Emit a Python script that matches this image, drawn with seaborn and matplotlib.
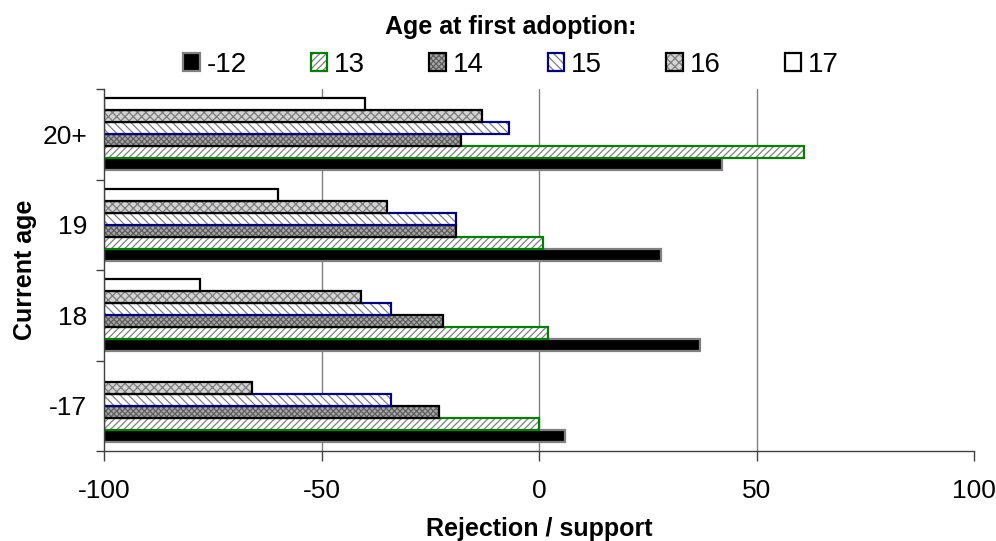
"""Horizontal grouped bars: support by current age and age at first adoption."""

import matplotlib

matplotlib.use("Agg")
import matplotlib.pyplot as plt  # noqa: E402
import pandas as pd  # noqa: E402
import seaborn as sns  # noqa: E402
from matplotlib.colors import to_rgba  # noqa: E402
from matplotlib.ticker import FixedLocator  # noqa: E402

CURRENT_AGE = ["-17", "18", "19", "20+"]
ADOPTION_AGE = ["-12", "13", "14", "15", "16", "17"]

# one list per adoption age, values in CURRENT_AGE order (None = no bar)
VAL_M12 = [6, 37, 28, 42]
VAL_13 = [0, 2, 1, 61]
VAL_14 = [-23, -22, -19, -18]
VAL_15 = [-34, -34, -19, -7]
VAL_16 = [-66, -41, -35, -13]
VAL_17 = [None, -78, -60, -40]

BASE = -100  # bars grow from the left edge of the scale

STYLES = {
    "-12": dict(face="black", edge="#808080", hatch=None, hatch_color=None),
    "13": dict(face="white", edge="#008000", hatch="/////", hatch_color="#808080"),
    "14": dict(face="#a8a8a8", edge="black", hatch="xxxxxx", hatch_color="#5e5e5e"),
    "15": dict(face="white", edge="#000080", hatch="\\\\\\\\", hatch_color="#808080"),
    "16": dict(face="#d4d4d4", edge="black", hatch="xxxx", hatch_color="#7c7c7c"),
    "17": dict(face="white", edge="black", hatch=None, hatch_color=None),
}

sns.set_theme(style="white")
plt.rcParams["font.family"] = ["Liberation Sans", "DejaVu Sans"]
plt.rcParams["hatch.linewidth"] = 0.9
plt.rcParams["text.color"] = "black"
plt.rcParams["axes.labelcolor"] = "black"
plt.rcParams["xtick.color"] = "black"
plt.rcParams["ytick.color"] = "black"

rows = []
for adopt, vals in zip(ADOPTION_AGE, [VAL_M12, VAL_13, VAL_14, VAL_15, VAL_16, VAL_17]):
    for cur, v in zip(CURRENT_AGE, vals):
        if v is None:
            continue
        rows.append({"current": cur, "adoption": adopt, "value": v})
df = pd.DataFrame(rows)
df["length"] = df["value"] - BASE

fig = plt.figure(figsize=(9.96, 5.41), dpi=100)
ax = fig.add_axes([104 / 996, 90 / 541, 870 / 996, 362 / 541])

for gx in (-50, 0, 50):
    ax.axvline(gx, color="#808080", lw=1.0, zorder=0)

sns.barplot(
    data=df,
    x="length",
    y="current",
    hue="adoption",
    order=CURRENT_AGE,
    hue_order=ADOPTION_AGE,
    orient="y",
    width=0.8,
    left=BASE,
    errorbar=None,
    legend=False,
    ax=ax,
    zorder=2,
)

for adopt, cont in zip(ADOPTION_AGE, ax.containers):
    st = STYLES[adopt]
    for p in cont.patches:
        p.set_facecolor(st["face"])
        p.set_edgecolor(st["edge"])
        p.set_linewidth(1.6)
        if st["hatch"]:
            p.set_hatch(st["hatch"])
            if hasattr(p, "set_hatchcolor"):
                p.set_hatchcolor(st["hatch_color"])
            else:
                p._hatch_color = to_rgba(st["hatch_color"])

ax.invert_yaxis()  # first category at the bottom
ax.set_ylim(-0.5, len(CURRENT_AGE) - 0.5)
ax.set_xlim(-100, 100)
ax.set_xticks([-100, -50, 0, 50, 100])
ax.set_xticklabels(["-100", "-50", "0", "50", "100"])

ax.yaxis.set_minor_locator(FixedLocator([i - 0.5 for i in range(len(CURRENT_AGE) + 1)]))
ax.tick_params(axis="y", which="major", length=0, pad=12, labelsize=19)
ax.tick_params(axis="y", which="minor", left=True, length=6, width=1, color="#404040", direction="out")
ax.tick_params(axis="x", which="major", bottom=True, length=7, width=1, color="#404040",
               direction="out", pad=13, labelsize=19)

for side in ("top", "right"):
    ax.spines[side].set_visible(False)
for side in ("left", "bottom"):
    ax.spines[side].set_color("#404040")
    ax.spines[side].set_linewidth(1.0)

ax.set_xlabel("Rejection / support", fontsize=18, fontweight="bold", labelpad=10)
ax.set_ylabel("Current age", fontsize=18, fontweight="bold", labelpad=4)

handles = [ax.containers[i].patches[0] for i in range(len(ADOPTION_AGE))]
leg = fig.legend(
    handles,
    ADOPTION_AGE,
    title="Age at first adoption:",
    loc="upper center",
    bbox_to_anchor=(511 / 996, 1.0),
    ncol=6,
    frameon=False,
    fontsize=20,
    title_fontproperties={"weight": "bold", "size": 18},
    handlelength=0.6,
    handleheight=0.6,
    handletextpad=0.25,
    columnspacing=2.3,
    labelspacing=0.45,
    borderaxespad=0.15,
)

fig.savefig("out.png", dpi=100)
